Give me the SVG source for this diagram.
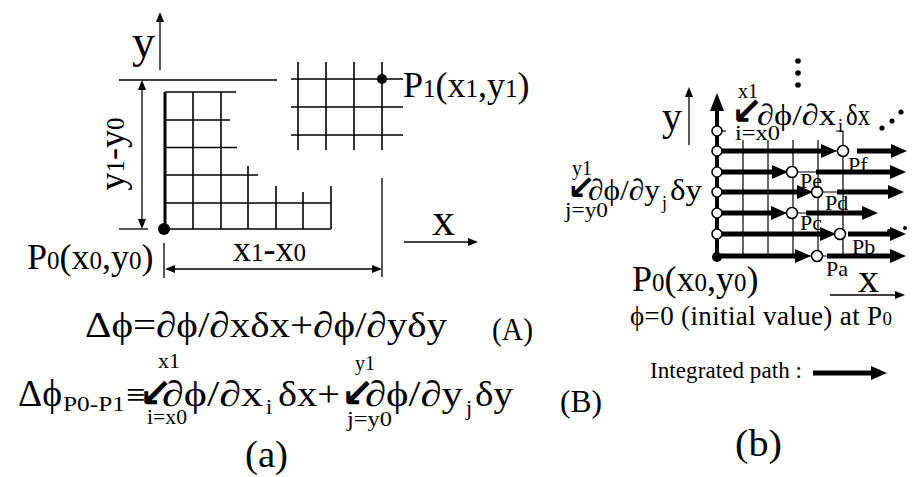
<svg xmlns="http://www.w3.org/2000/svg" width="913" height="477" viewBox="0 0 913 477">
<defs>
<style>
text{font-family:"Liberation Serif","Times New Roman",serif;fill:#000}
.ar{font-family:"DejaVu Sans",sans-serif;font-weight:bold}
.thin{stroke:#000;stroke-width:1.3;fill:none}
.g{stroke:#000;stroke-width:1.6;fill:none}
.gt{stroke:#000;stroke-width:1.2;fill:none}
.thk{stroke:#000;stroke-width:5;fill:none}
.oc{fill:#fff;stroke:#000;stroke-width:1.6}
</style>
<marker id="ah" markerUnits="userSpaceOnUse" markerWidth="10" markerHeight="8" refX="0" refY="4" orient="auto-start-reverse"><path d="M0,0 L10,4 L0,8 z" fill="#000"/></marker>
<marker id="th" markerUnits="userSpaceOnUse" markerWidth="16" markerHeight="14" refX="0" refY="7" orient="auto"><path d="M0,0 L16,7 L0,14 z" fill="#000"/></marker>
<marker id="tax" markerUnits="userSpaceOnUse" markerWidth="18" markerHeight="14" refX="0" refY="7" orient="auto"><path d="M0,0 L18,7 L0,14 z" fill="#000"/></marker>
</defs>
<rect width="913" height="477" fill="#fff"/>

<g id="grid-a">
<line class="g" x1="291" y1="79" x2="403" y2="79"/>
<line class="g" x1="291" y1="107" x2="403" y2="107"/>
<line class="g" x1="291" y1="135" x2="403" y2="135"/>
<line class="g" x1="298" y1="62" x2="298" y2="150"/>
<line class="g" x1="326" y1="62" x2="326" y2="150"/>
<line class="g" x1="354" y1="62" x2="354" y2="150"/>
<line class="g" x1="382" y1="62" x2="382" y2="150"/>
<line class="g" x1="165" y1="92" x2="236" y2="92"/>
<line class="g" x1="165" y1="120" x2="230" y2="120"/>
<line class="g" x1="165" y1="147.5" x2="237" y2="147.5"/>
<line class="g" x1="165" y1="175" x2="258" y2="175"/>
<line class="g" x1="165" y1="203" x2="331" y2="203"/>
<line class="g" x1="165" y1="229" x2="331" y2="229" stroke-width="2"/>
<line class="g" x1="193" y1="92" x2="193" y2="229"/>
<line class="g" x1="221" y1="92" x2="221" y2="229"/>
<line class="g" x1="248" y1="166" x2="248" y2="229"/>
<line class="g" x1="276" y1="186" x2="276" y2="229"/>
<line class="g" x1="303" y1="192" x2="303" y2="229"/>
<line class="g" x1="331" y1="186" x2="331" y2="229"/>
<line x1="165" y1="92" x2="165" y2="229" stroke="#000" stroke-width="3"/>
<circle cx="164" cy="229" r="6" fill="#000"/>
<circle cx="382" cy="79" r="5" fill="#000"/>
</g>

<g id="connectors">
<line class="thin" x1="160" y1="70" x2="160" y2="22" marker-end="url(#ah)"/>
<line class="thin" x1="404" y1="242" x2="468" y2="242" marker-end="url(#ah)"/>
<line class="thin" x1="119" y1="80" x2="277" y2="80"/>
<line class="thin" x1="119" y1="229" x2="148" y2="229"/>
<line class="thin" x1="142" y1="90" x2="142" y2="219" marker-start="url(#ah)" marker-end="url(#ah)"/>
<line class="thin" x1="164" y1="243" x2="164" y2="278"/>
<line class="thin" x1="382" y1="178" x2="382" y2="277"/>
<line class="thin" x1="175" y1="269" x2="372" y2="269" marker-start="url(#ah)" marker-end="url(#ah)"/>
</g>

<g id="labels-a">
<text x="132" y="57" font-size="46">y</text>
<text x="432" y="235" font-size="46">x</text>
<text transform="translate(124,154) rotate(-90)" text-anchor="middle" font-size="36">y<tspan font-size="25">1</tspan>-y<tspan font-size="25">0</tspan></text>
<text x="233" y="261" font-size="36">x<tspan font-size="25">1</tspan>-x<tspan font-size="25">0</tspan></text>
<text x="27" y="269" font-size="36">P<tspan font-size="25">0</tspan>(x<tspan font-size="25">0</tspan>,y<tspan font-size="25">0</tspan>)</text>
<text x="403" y="97" font-size="36">P<tspan font-size="25">1</tspan>(x<tspan font-size="25">1</tspan>,y<tspan font-size="25">1</tspan>)</text>
</g>

<g id="equations">
<text x="85" y="337" font-size="36" textLength="362" lengthAdjust="spacingAndGlyphs">Δϕ=∂ϕ/∂xδx+∂ϕ/∂yδy</text>
<text x="492" y="340" font-size="32" textLength="41" lengthAdjust="spacingAndGlyphs">(A)</text>
<text x="18" y="406" font-size="38" textLength="44" lengthAdjust="spacingAndGlyphs">Δϕ</text>
<text x="63" y="411" font-size="22" textLength="62" lengthAdjust="spacingAndGlyphs">P0-P1</text>
<text x="126" y="406" font-size="34">≡</text>
<text class="ar" x="139" y="407" font-size="40">↙</text>
<text x="162" y="406" font-size="36" textLength="101" lengthAdjust="spacingAndGlyphs">∂ϕ/∂x</text>
<text x="266" y="414" font-size="22">i</text>
<text x="278" y="406" font-size="36" textLength="62" lengthAdjust="spacingAndGlyphs">δx+</text>
<text class="ar" x="341" y="407" font-size="40">↙</text>
<text x="365" y="406" font-size="36" textLength="98" lengthAdjust="spacingAndGlyphs">∂ϕ/∂y</text>
<text x="466" y="415" font-size="22">j</text>
<text x="475" y="406" font-size="36" textLength="38" lengthAdjust="spacingAndGlyphs">δy</text>
<text x="560" y="412" font-size="32" textLength="42" lengthAdjust="spacingAndGlyphs">(B)</text>
<text x="158" y="368" font-size="22" textLength="22" lengthAdjust="spacingAndGlyphs">x1</text>
<text x="147" y="424" font-size="22" textLength="40" lengthAdjust="spacingAndGlyphs">i=x0</text>
<text x="355" y="370" font-size="22" textLength="20" lengthAdjust="spacingAndGlyphs">y1</text>
<text x="347" y="426" font-size="22" textLength="45" lengthAdjust="spacingAndGlyphs">j=y0</text>
<text x="245" y="467" font-size="38" textLength="43" lengthAdjust="spacingAndGlyphs">(a)</text>
</g>

<g id="grid-b">
<line class="gt" x1="717" y1="151" x2="843" y2="151"/>
<line class="gt" x1="717" y1="172" x2="843" y2="172"/>
<line class="gt" x1="717" y1="192" x2="843" y2="192"/>
<line class="gt" x1="717" y1="213" x2="843" y2="213"/>
<line class="gt" x1="717" y1="234" x2="843" y2="234"/>
<line class="gt" x1="717" y1="256" x2="843" y2="256"/>
<line class="gt" x1="743" y1="140" x2="743" y2="256"/>
<line class="gt" x1="768" y1="140" x2="768" y2="256"/>
<line class="gt" x1="793" y1="140" x2="793" y2="256"/>
<line class="gt" x1="818" y1="140" x2="818" y2="256"/>
<polyline class="gt" points="836,131 843,131 843,256"/>
<line class="gt" x1="717" y1="131" x2="726" y2="131"/>
</g>

<g id="paths-b">
<line class="thin" x1="689" y1="145" x2="689" y2="97" marker-end="url(#ah)"/>
<line class="thin" x1="830" y1="295" x2="895" y2="295" marker-end="url(#ah)"/>
<line x1="717" y1="258" x2="717" y2="111" stroke="#000" stroke-width="4" marker-end="url(#tax)"/>
<line class="thk" x1="717" y1="151" x2="821" y2="151" marker-end="url(#th)"/>
<line class="thk" x1="857" y1="151" x2="891" y2="151" marker-end="url(#th)"/>
<line class="thk" x1="717" y1="172" x2="772" y2="172" marker-end="url(#th)"/>
<line class="thk" x1="816" y1="172" x2="890" y2="172" marker-end="url(#th)"/>
<line class="thk" x1="717" y1="192" x2="797" y2="192" marker-end="url(#th)"/>
<line class="thk" x1="837" y1="192" x2="888" y2="192" marker-end="url(#th)"/>
<line class="thk" x1="717" y1="213" x2="771" y2="213" marker-end="url(#th)"/>
<line class="thk" x1="806" y1="213" x2="862" y2="213" marker-end="url(#th)"/>
<line class="thk" x1="717" y1="234" x2="820" y2="234" marker-end="url(#th)"/>
<line class="thk" x1="848" y1="234" x2="890" y2="234" marker-end="url(#th)"/>
<line class="thk" x1="717" y1="256" x2="795" y2="256" marker-end="url(#th)"/>
<line class="thk" x1="827" y1="256" x2="890" y2="256" marker-end="url(#th)"/>
<line class="thk" x1="813" y1="373" x2="871" y2="373" marker-end="url(#th)"/>
</g>

<g id="points-b">
<circle class="oc" cx="717" cy="131" r="5"/>
<circle class="oc" cx="717" cy="151" r="5"/>
<circle class="oc" cx="717" cy="172" r="5"/>
<circle class="oc" cx="717" cy="192" r="5"/>
<circle class="oc" cx="717" cy="213" r="5"/>
<circle class="oc" cx="717" cy="234" r="5"/>
<circle cx="717" cy="257" r="5" fill="#000"/>
<circle class="oc" cx="843" cy="151" r="5.5"/>
<circle class="oc" cx="792" cy="172" r="5.5"/>
<circle class="oc" cx="817" cy="192" r="5.5"/>
<circle class="oc" cx="792" cy="213" r="5.5"/>
<circle class="oc" cx="840" cy="234" r="5.5"/>
<circle class="oc" cx="817" cy="256" r="5.5"/>
<circle cx="798" cy="61" r="2.8" fill="#000"/>
<circle cx="798" cy="73" r="2.8" fill="#000"/>
<circle cx="798" cy="85" r="2.8" fill="#000"/>
<circle cx="882" cy="128" r="2.6" fill="#000"/>
<circle cx="892" cy="121" r="2.6" fill="#000"/>
<circle cx="901" cy="112" r="2.6" fill="#000"/>
<circle cx="889" cy="231" r="2" fill="#000"/>
<circle cx="905" cy="228" r="2" fill="#000"/>
</g>

<g id="labels-b">
<text x="662" y="130" font-size="40">y</text>
<text x="858" y="292" font-size="42">x</text>
<text x="848" y="172" font-size="22">Pf</text>
<text x="800" y="188" font-size="22">Pe</text>
<text x="825" y="210" font-size="22">Pd</text>
<text x="800" y="230" font-size="22">Pc</text>
<text x="852" y="254" font-size="22">Pb</text>
<text x="826" y="276" font-size="22">Pa</text>
<text x="738" y="98" font-size="20" textLength="20" lengthAdjust="spacingAndGlyphs">x1</text>
<text class="ar" x="731" y="124" font-size="38">↙</text>
<text x="757" y="125" font-size="30" textLength="79" lengthAdjust="spacingAndGlyphs">∂ϕ/∂x</text>
<text x="838" y="132" font-size="18">i</text>
<text x="846" y="125" font-size="30" textLength="24" lengthAdjust="spacingAndGlyphs">δx</text>
<text x="735" y="140" font-size="20" textLength="45" lengthAdjust="spacingAndGlyphs">i=x0</text>
<text x="572" y="175" font-size="20" textLength="20" lengthAdjust="spacingAndGlyphs">y1</text>
<text class="ar" x="567" y="199" font-size="34">↙</text>
<text x="588" y="200" font-size="30" textLength="72" lengthAdjust="spacingAndGlyphs">∂ϕ/∂y</text>
<text x="662" y="209" font-size="18">j</text>
<text x="670" y="200" font-size="30" textLength="32" lengthAdjust="spacingAndGlyphs">δy</text>
<text x="565" y="217" font-size="20" textLength="43" lengthAdjust="spacingAndGlyphs">j=y0</text>
<text x="632" y="291" font-size="36">P<tspan font-size="25">0</tspan>(x<tspan font-size="25">0</tspan>,y<tspan font-size="25">0</tspan>)</text>
<text x="630" y="325" font-size="27" textLength="262">ϕ=0 (initial value) at P<tspan font-size="19">0</tspan></text>
<text x="650" y="378" font-size="23" textLength="152">Integrated path :</text>
<text x="735" y="456" font-size="38" textLength="47" lengthAdjust="spacingAndGlyphs">(b)</text>
</g>
</svg>
